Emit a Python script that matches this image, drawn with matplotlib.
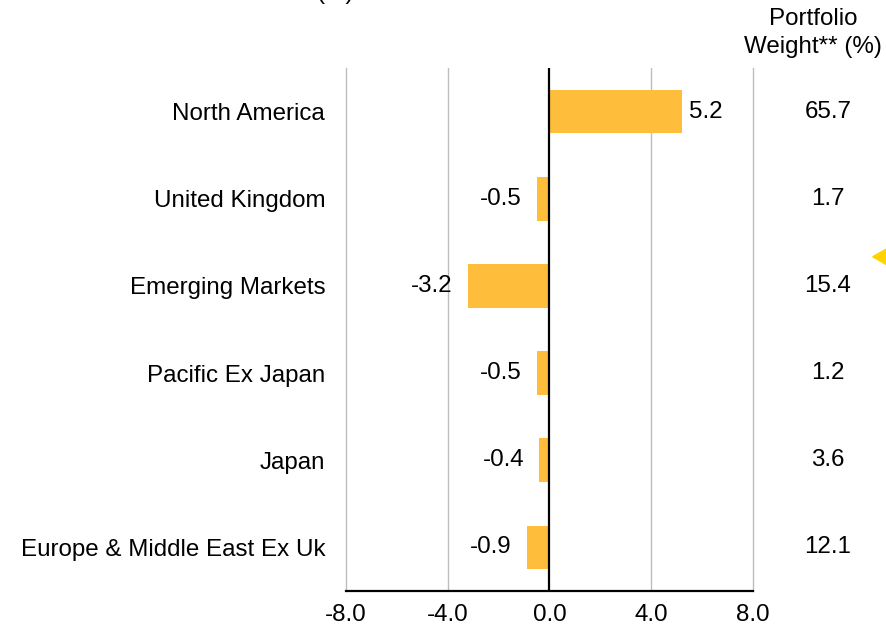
import matplotlib
matplotlib.use("Agg")
import matplotlib.pyplot as plt
from matplotlib.patches import Polygon

plt.rcParams["font.family"] = ["Liberation Sans", "DejaVu Sans"]

regions = ["North America", "United Kingdom", "Emerging Markets",
           "Pacific Ex Japan", "Japan", "Europe & Middle East Ex Uk"]
relative = [5.2, -0.5, -3.2, -0.5, -0.4, -0.9]
weights = [65.7, 1.7, 15.4, 1.2, 3.6, 12.1]
xticks = [-8.0, -4.0, 0.0, 4.0, 8.0]

bar_color = "#FEBE3C"
fs = 17.4

fig = plt.figure(figsize=(8.86, 6.34), dpi=100)
ax = fig.add_axes([0.3905, 0.0678, 0.4594, 0.8249])

ypos = list(range(len(regions)))
ax.barh(ypos, relative, height=0.5, color=bar_color, zorder=2)

for y, v in zip(ypos, relative):
    if v >= 0:
        ax.text(v + 0.28, y, f"{v:.1f}", ha="left", va="center", fontsize=fs)
    else:
        ax.text(v - 0.6, y, f"{v:.1f}", ha="right", va="center", fontsize=fs)

# portfolio weight column
for y, w in zip(ypos, weights):
    ax.text(10.95, y, f"{w:.1f}", ha="center", va="center", fontsize=fs,
            clip_on=False)
fig.text(0.918, 0.970, "Portfolio", ha="center", va="center", fontsize=fs)
fig.text(0.918, 0.926, "Weight** (%)", ha="center", va="center", fontsize=fs)

ax.set_xlim(-8, 8)
ax.set_ylim(len(regions) - 0.5, -0.5)
ax.set_yticks(ypos)
ax.set_yticklabels(regions, fontsize=fs)
ax.set_xticks(xticks)
ax.set_xticklabels([f"{t:.1f}" for t in xticks], fontsize=fs)
ax.tick_params(axis="both", length=0)
ax.tick_params(axis="y", pad=15)
ax.tick_params(axis="x", pad=9)

for t in [-4, 4]:
    ax.axvline(t, color="#BDBDBD", linewidth=1, zorder=1)
ax.axvline(0, color="black", linewidth=1.6, zorder=3)

for side in ["left", "right"]:
    ax.spines[side].set_color("#BDBDBD")
    ax.spines[side].set_linewidth(1)
ax.spines["top"].set_visible(False)
ax.spines["bottom"].set_color("black")
ax.spines["bottom"].set_linewidth(1.6)

# cut-off title fragment at the very top, as in the source
fig.text(0.378, 1.002, "(%)", ha="center", va="baseline", fontsize=fs)

# small marker at right edge
fig.patches.append(Polygon([[0.985, 0.595], [1.0, 0.583], [1.0, 0.607]],
                           closed=True, transform=fig.transFigure,
                           color="#FFD200"))

fig.savefig("out.png", dpi=100)
